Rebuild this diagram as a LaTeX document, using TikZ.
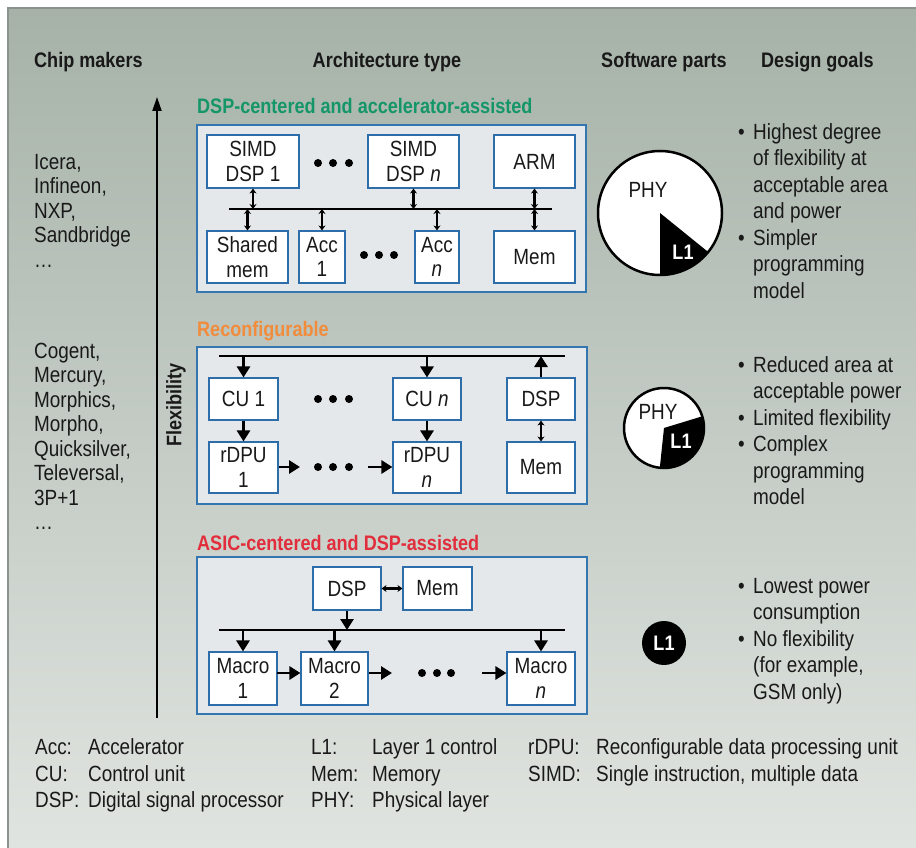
\documentclass[tikz,border=0pt]{standalone}
\usepackage{fontspec}
\setmainfont{Liberation Sans}[FakeStretch=0.86]
\usetikzlibrary{arrows.meta,calc}
\definecolor{bgtop}{RGB}{166,178,168}
\definecolor{bgbot}{RGB}{224,228,224}
\definecolor{framec}{RGB}{140,146,141}
\definecolor{panf}{RGB}{228,232,235}
\definecolor{panc}{RGB}{52,118,176}
\definecolor{boxc}{RGB}{45,110,170}
\definecolor{tgreen}{RGB}{20,150,105}
\definecolor{torange}{RGB}{240,140,60}
\definecolor{tred}{RGB}{225,45,60}
\newcommand{\myreg}{\fontsize{22}{24.5}\selectfont}
\newcommand{\mygoal}{\fontsize{22}{26.5}\selectfont}
\newcommand{\mybold}{\fontsize{21}{24}\selectfont\bfseries}
\newcommand{\mybul}{\makebox[15pt][l]{•}}
\newcommand{\myind}{\hspace*{15pt}}
\begin{document}
\begin{tikzpicture}[x=1pt,y=-1pt,
  every node/.style={font=\myreg, inner sep=0pt, text=black!90},
  panel/.style={draw=panc, fill=panf, line width=1.4pt},
  box/.style={draw=boxc, fill=white, line width=1.1pt, align=center},
  bus/.style={line width=2.8pt},
  big/.style={line width=2.8pt, -{Triangle[length=11pt,width=13pt]}},
  dbl/.style={line width=2.1pt, {Stealth[length=5pt,width=7pt]}-{Stealth[length=5pt,width=7pt]}},
  txt/.style={anchor=base west, align=left},
  hdr/.style={font=\mybold, anchor=base west},
  ttl/.style={font=\mybold, anchor=base west}]
\useasboundingbox (0,0) rectangle (916,848);
\fill[white] (0,0) rectangle (916,848);
\shade[top color=bgtop, bottom color=bgbot] (8,8) rectangle (916,848);
\draw[framec, line width=1.5pt] (8,848) -- (8,8) -- (916,8);

% headers
\node[hdr] (h1) at (34,68) {Chip makers};
\node[hdr, anchor=base] (h2) at (387,68) {Architecture type};
\node[hdr] (h3) at (601,68) {Software parts};
\node[hdr] (h4) at (761,68) {Design goals};

% chip makers (anchor = baseline of the last line)
\node[txt] (c1) at (34,267) {Icera,\\Infineon,\\NXP,\\Sandbridge\\…};
\node[txt] (c2) at (34,529.5) {Cogent,\\Mercury,\\Morphics,\\Morpho,\\Quicksilver,\\Televersal,\\3P+1\\…};

% flexibility axis
\coordinate (fb) at (157,718);
\coordinate (ft) at (157,97);
\draw[line width=2pt, -{Triangle[length=14pt,width=9pt]}] (fb) -- (ft);
\node[font=\mybold, rotate=90] (flex) at (176,405) {Flexibility};

% ---------- top panel ----------
\node[ttl, text=tgreen] (t1) at (197,114) {DSP-centered and accelerator-assisted};
\node[panel, minimum width=389, minimum height=167] (p1) at (391.5,208.5) {};
\node[box, minimum width=92, minimum height=53] (s1) at (253,161.5) {SIMD\\DSP 1};
\node[box, minimum width=91, minimum height=53] (sn) at (413.5,161.5) {SIMD\\DSP \textit{n}};
\node[box, minimum width=81, minimum height=53] (arm) at (534.5,161.5) {ARM};
\node[box, minimum width=81, minimum height=52] (sh) at (247.5,257) {Shared\\mem};
\node[box, minimum width=46, minimum height=52] (a1) at (322,257) {Acc\\1};
\node[box, minimum width=44, minimum height=52] (an) at (437,257) {Acc\\\textit{n}};
\node[box, minimum width=81, minimum height=52] (m1t) at (534.5,257) {Mem};
\coordinate (b1l) at (229,209);
\coordinate (b1r) at (552,209);
\draw[bus] (b1l) -- (b1r);
\foreach \x in {318,333,349} \fill (\x,163) circle[radius=4];
\foreach \x in {364,379,394} \fill (\x,255) circle[radius=4];
\draw[dbl] (s1.south) -- (s1.south |- b1l);
\draw[dbl] (sn.south) -- (sn.south |- b1l);
\draw[dbl] (arm.south) -- (arm.south |- b1l);
\draw[dbl] (sh.north |- b1l) -- (sh.north);
\draw[dbl] (a1.north |- b1l) -- (a1.north);
\draw[dbl] (an.north |- b1l) -- (an.north);
\draw[dbl] (m1t.north |- b1l) -- (m1t.north);

% ---------- middle panel ----------
\node[ttl, text=torange] (t2) at (197,336) {Reconfigurable};
\node[panel, minimum width=390, minimum height=157] (p2) at (392,425.5) {};
\node[box, minimum width=69, minimum height=42] (cu1) at (243.5,399) {CU 1};
\node[box, minimum width=68, minimum height=42] (cun) at (427,399) {CU \textit{n}};
\node[box, minimum width=68, minimum height=42] (dsp2) at (541,399) {DSP};
\node[box, minimum width=69, minimum height=51] (rd1) at (243.5,467.5) {rDPU\\1};
\node[box, minimum width=68, minimum height=51] (rdn) at (427,467.5) {rDPU\\\textit{n}};
\node[box, minimum width=68, minimum height=51] (m2) at (541,467.5) {Mem};
\coordinate (b2l) at (219,356);
\coordinate (b2r) at (565,356);
\draw[bus] (b2l) -- (b2r);
\foreach \x in {318,333,349} {\fill (\x,399) circle[radius=4]; \fill (\x,467) circle[radius=4];}
\draw[big] (cu1.north |- b2l) -- (cu1.north);
\draw[big] (cun.north |- b2l) -- (cun.north);
\draw[big] (dsp2.north) -- (dsp2.north |- b2l);
\draw[big] (cu1.south) -- (rd1.north);
\draw[big] (cun.south) -- (rdn.north);
\draw[dbl] (dsp2.south) -- (m2.north);
\coordinate (r1e) at (300,467);
\coordinate (rns) at (368,467);
\draw[big] (rd1.east |- r1e) -- (r1e);
\draw[big] (rns) -- (rdn.west |- rns);

% ---------- bottom panel ----------
\node[ttl, text=tred] (t3) at (197,550) {ASIC-centered and DSP-assisted};
\node[panel, minimum width=390, minimum height=157] (p3) at (392,635.5) {};
\node[box, minimum width=68, minimum height=43] (dsp3) at (347,588.5) {DSP};
\node[box, minimum width=69, minimum height=43] (m3) at (437.5,588.5) {Mem};
\node[box, minimum width=68, minimum height=53] (mc1) at (243,678.5) {Macro\\1};
\node[box, minimum width=67, minimum height=53] (mc2) at (334.5,678.5) {Macro\\2};
\node[box, minimum width=68, minimum height=53] (mcn) at (541,678.5) {Macro\\\textit{n}};
\coordinate (b3l) at (219,630);
\coordinate (b3r) at (565,630);
\draw[bus] (b3l) -- (b3r);
\draw[dbl] (dsp3.east) -- (m3.west);
\draw[big] (dsp3.south) -- (dsp3.south |- b3l);
\draw[big] (mc1.north |- b3l) -- (mc1.north);
\draw[big] (mc2.north |- b3l) -- (mc2.north);
\draw[big] (mcn.north |- b3l) -- (mcn.north);
\coordinate (m1a) at (277,673);
\coordinate (m2a) at (392,673);
\coordinate (mna) at (482,673);
\draw[big] (m1a) -- (mc2.west |- m1a);
\draw[big] (mc2.east |- m2a) -- (m2a);
\draw[big] (mna) -- (mcn.west |- mna);
\foreach \x in {422,437,451} \fill (\x,673) circle[radius=4];

% ---------- pies ----------
\coordinate (pc1) at (660,213);
\fill[white] (pc1) circle[radius=62];
\begin{scope}
\clip (pc1) circle[radius=62];
\fill[black] (pc1) -- ($(pc1)+(90:100)$) -- ($(pc1)+(65:100)$) -- ($(pc1)+(39:100)$) -- cycle;
\end{scope}
\draw[line width=2.5pt] (pc1) circle[radius=62];
\node (phy1) at (648,190) {PHY};
\node[font=\mybold, text=white] (l11) at (683,252) {L1};

\coordinate (pc2) at (664,428);
\fill[white] (pc2) circle[radius=40];
\begin{scope}
\clip (pc2) circle[radius=40];
\fill[black] (pc2) -- ($(pc2)+(96:100)$) -- ($(pc2)+(40:100)$) -- ($(pc2)+(-17:100)$) -- cycle;
\end{scope}
\draw[line width=2.5pt] (pc2) circle[radius=40];
\node (phy2) at (658,412) {PHY};
\node[font=\mybold, text=white] (l12) at (681,441) {L1};

\fill[black] (664,643) circle[radius=22];
\node[font=\mybold, text=white] (l13) at (664,643) {L1};

% ---------- design goals (anchor = baseline of the last line) ----------
\node[txt, font=\mygoal] (g1) at (738,298) {\mybul Highest degree\\\myind of flexibility at\\\myind acceptable area\\\myind and power\\\mybul Simpler\\\myind programming\\\myind model};
\node[txt, font=\mygoal] (g2) at (738,504.5) {\mybul Reduced area at\\\myind acceptable power\\\mybul Limited flexibility\\\mybul Complex\\\myind programming\\\myind model};
\node[txt, font=\mygoal] (g3) at (738,699) {\mybul Lowest power\\\myind consumption\\\mybul No flexibility\\\myind (for example,\\\myind GSM only)};

% ---------- legend ----------
\node[txt] (k1) at (35,754) {Acc:};
\node[txt] (v1) at (88,754) {Accelerator};
\node[txt] (k2) at (35,781) {CU:};
\node[txt] (v2) at (88,781) {Control unit};
\node[txt] (k3) at (35,807) {DSP:};
\node[txt] (v3) at (88,807) {Digital signal processor};
\node[txt] (k4) at (311,754) {L1:};
\node[txt] (v4) at (372,754) {Layer 1 control};
\node[txt] (k5) at (311,781) {Mem:};
\node[txt] (v5) at (372,781) {Memory};
\node[txt] (k6) at (311,807) {PHY:};
\node[txt] (v6) at (372,807) {Physical layer};
\node[txt] (k7) at (528,754) {rDPU:};
\node[txt] (v7) at (596,754) {Reconfigurable data processing unit};
\node[txt] (k8) at (528,781) {SIMD:};
\node[txt] (v8) at (596,781) {Single instruction, multiple data};
\end{tikzpicture}
\end{document}
